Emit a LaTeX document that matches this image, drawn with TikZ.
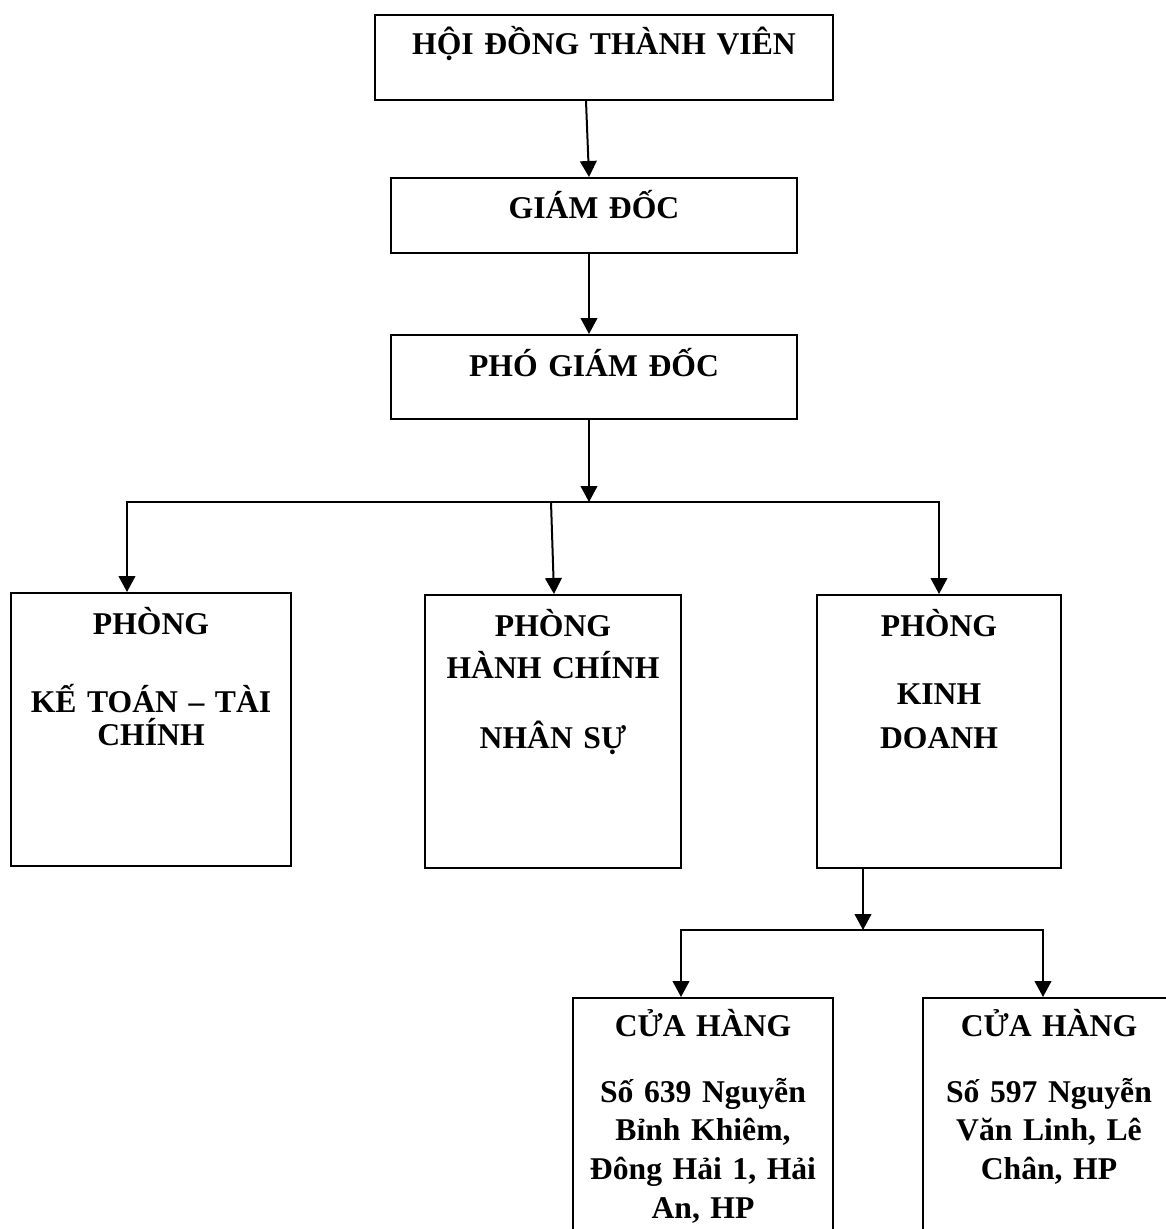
\documentclass[tikz,border=0pt]{standalone}
\usepackage{fontspec}
\setmainfont{Liberation Serif}
\usetikzlibrary{arrows.meta,calc}

\tikzset{
	unit/.style={draw, line width=1.5pt, anchor=north, inner sep=0pt, align=center,
		font=\bfseries\fontsize{23.75pt}{29pt}\selectfont},
	arr/.style={line width=1.5pt, -{Triangle[length=12pt,width=12.5pt]}}
}

\begin{document}
\begin{tikzpicture}[x=0.75pt, y=-0.75pt]
	\useasboundingbox (0, 0) rectangle (1166, 1229);
	\clip (0, 0) rectangle (1166, 1229);

	% boxes
	\node[unit, text width=343.5pt, text height=29.25pt, text depth=34.5pt] (hdtv) at (604, 14) {HỘI ĐỒNG THÀNH VIÊN};
	\node[unit, text width=304.5pt, text height=30pt, text depth=26.25pt] (gd) at (594, 177) {GIÁM ĐỐC};
	\node[unit, text width=304.5pt, text height=30.75pt, text depth=32.25pt] (pgd) at (594, 334) {PHÓ GIÁM ĐỐC};

	\node[unit, text width=210pt, text height=30.75pt, text depth=174pt] (ktc) at (151, 592) {PHÒNG\\[29.5pt]KẾ TOÁN – TÀI\\[-4.25pt]CHÍNH};
	\node[unit, text width=192pt, text height=30.75pt, text depth=174pt] (hcns) at (553, 594) {PHÒNG\\[2.5pt]HÀNH CHÍNH\\[23.5pt]NHÂN SỰ};
	\node[unit, text width=183pt, text height=30.75pt, text depth=174pt] (kd) at (939, 594) {PHÒNG\\[22pt]KINH\\[4pt]DOANH};

	\node[unit, text width=195pt, text height=28.5pt, text depth=196.5pt] (ch1) at (703, 997) {CỬA HÀNG\\[20.5pt]Số 639 Nguyễn\\Bỉnh Khiêm,\\Đông Hải 1, Hải\\An, HP};
	\node[unit, text width=189pt, text height=28.5pt, text depth=196.5pt] (ch2) at (1049, 997) {CỬA HÀNG\\[20.5pt]Số 597 Nguyễn\\Văn Linh, Lê\\Chân, HP};

	% junction points
	\coordinate (busT) at (589, 502);
	\coordinate (busL) at (127, 502);
	\coordinate (busM) at (551, 502);
	\coordinate (busR) at (939, 502);
	\coordinate (bus2M) at (863, 930);
	\coordinate (bus2L) at (681, 930);
	\coordinate (bus2R) at (1043, 930);

	% arrows
	\draw[arr] ($(hdtv.south)+(-18, 0)$) -- (gd.north -| busT);
	\draw[arr] (gd.south -| busT) -- (pgd.north -| busT);
	\draw[arr] (pgd.south -| busT) -- (busT);
	\draw[arr] (busM) -- (busL) -- (busL |- ktc.north);
	\draw[arr] (busM) -- (busR) -- (kd.north);
	\draw[arr] (busM) -- ($(hcns.north)+(1, 0)$);

	\draw[arr] (kd.south -| bus2M) -- (bus2M);
	\draw[arr] (bus2M) -- (bus2L) -- (bus2L |- ch1.north);
	\draw[arr] (bus2M) -- (bus2R) -- (bus2R |- ch2.north);
\end{tikzpicture}
\end{document}
